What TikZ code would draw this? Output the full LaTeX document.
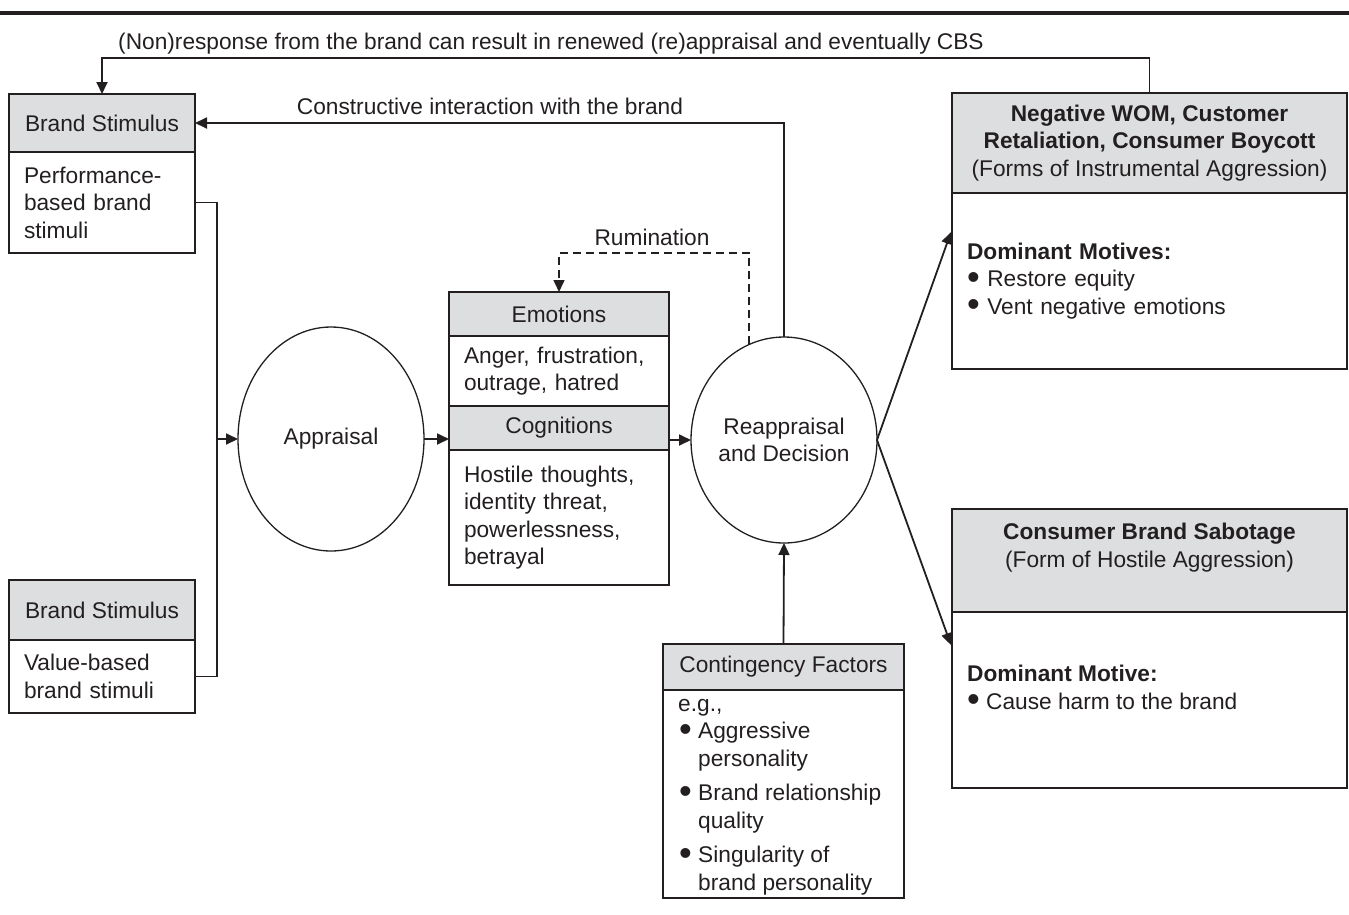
\documentclass[tikz,border=0pt]{standalone}
\usepackage{fontspec}
\usepackage{graphicx}
\setmainfont{Liberation Sans}
\usetikzlibrary{arrows.meta,shapes.geometric,calc}
\definecolor{hdrgray}{RGB}{221,222,224}
\definecolor{ink}{RGB}{35,31,32}
\newcommand\bul{\raisebox{-2.5pt}[0pt][0pt]{\scalebox{1.6}{\textbullet}}}
\begin{document}
\begin{tikzpicture}[x=1pt,y=-1pt,
  font=\fontsize{22.7}{27.5}\selectfont, text=ink,
  box/.style={draw=ink, line width=1.5pt, rectangle, inner sep=0pt, outer sep=0pt},
  hbox/.style={box, fill=hdrgray},
  tbox/.style={box, inner xsep=15pt, align=left},
  circ/.style={draw=ink, line width=1.3pt, ellipse, inner sep=0pt, outer sep=0pt, align=center},
  conn/.style={draw=ink, line width=1.8pt},
  arr/.style={conn, -{Triangle[length=12pt,width=11pt]}},
  dasharr/.style={draw=ink, line width=1.5pt, -{Triangle[length=12pt,width=11pt]}, dash pattern=on 8pt off 5pt},
  lbl/.style={inner sep=0pt}]
\useasboundingbox (0,0) rectangle (1349,914);
\draw[line width=4pt, ink] (0,13) -- (1349,13);

% left boxes
\node[hbox, minimum width=186pt, minimum height=58pt] (bs1h) at (102,123) {Brand Stimulus};
\node[tbox, text width=156pt, minimum height=101pt] (bs1b) at (102,202.5) {Performance-\\based brand\\stimuli};
\node[hbox, minimum width=186pt, minimum height=60pt] (bs2h) at (102,610) {Brand Stimulus};
\node[tbox, text width=156pt, minimum height=73pt] (bs2b) at (102,676.5) {Value-based\\brand stimuli};

% appraisal
\node[circ, minimum width=186pt, minimum height=224pt] (appr) at (331,439) {Appraisal};

% emotions / cognitions
\node[hbox, minimum width=220pt, minimum height=44pt] (emoh) at (559,314) {Emotions};
\node[tbox, text width=190pt, minimum height=70pt] (emob) at (559,371) {Anger, frustration,\\outrage, hatred};
\node[hbox, minimum width=220pt, minimum height=44pt] (cogh) at (559,428) {Cognitions};
\node[tbox, text width=190pt, minimum height=135pt] (cogb) at (559,517.5) {Hostile thoughts,\\identity threat,\\powerlessness,\\betrayal};

% reappraisal
\node[circ, minimum width=186pt, minimum height=206pt] (reapp) at (784,440) {Reappraisal\\and Decision};

% contingency
\node[hbox, minimum width=241pt, minimum height=46pt] (conh) at (783.5,667) {Contingency Factors};
\node[box, minimum width=241pt, minimum height=208pt] (conb) at (783.5,794) {};
\node[lbl, anchor=north west, align=left] (cont) at (678,699) {e.g.,\\
\hspace*{1pt}\bul\ Aggressive\\
\hspace*{1pt}\hphantom{\bul\ }personality\\[7pt]
\hspace*{1pt}\bul\ Brand relationship\\
\hspace*{1pt}\hphantom{\bul\ }quality\\[7pt]
\hspace*{1pt}\bul\ Singularity of\\
\hspace*{1pt}\hphantom{\bul\ }brand personality};

% WOM box
\node[hbox, minimum width=395pt, minimum height=100pt, align=center] (womh) at (1149.5,143) {\textbf{Negative WOM, Customer}\\\textbf{Retaliation, Consumer Boycott}\\(Forms of Instrumental Aggression)};
\node[tbox, text width=365pt, minimum height=176pt] (womb) at (1149.5,281) {\textbf{Dominant Motives:}\\\bul\ Restore equity\\\bul\ Vent negative emotions};

% CBS box
\node[hbox, minimum width=395pt, minimum height=103pt] (cbsh) at (1149.5,560.5) {};
\node[lbl, align=center] (cbst) at (1149.5,547.5) {\textbf{Consumer Brand Sabotage}\\(Form of Hostile Aggression)};
\node[box, minimum width=395pt, minimum height=176pt] (cbsb) at (1149.5,700) {};
\node[lbl, anchor=west, align=left] (cbsm) at (967,687.5) {\textbf{Dominant Motive:}\\\bul\ Cause harm to the brand};

% labels
\node[lbl] (fbt) at (551,44) {(Non)response from the brand can result in renewed (re)appraisal and eventually CBS};
\node[lbl] (cit) at (490,106) {Constructive interaction with the brand};
\node[lbl] (rum) at (652,237) {Rumination};

% connectors
\draw[arr] (womh.north) -- ++(0,-35) -| (bs1h.north);
\draw[arr] (reapp.north) |- (bs1h.east);
\draw[dasharr] (reapp.110) |- ($(emoh.north)+(0,-39)$) -- (emoh.north);
\draw[conn] (bs1b.east) -- ++(22,0) |- (bs2b.east);
\coordinate (join) at (217,439);
\draw[arr] (join) -- (appr.west);
\draw[arr] (appr.east) -- (appr.east -| cogh.west);
\draw[arr] (cogh.east |- reapp.west) -- (reapp.west);
\draw[arr] (conh.north) -- (reapp.south);
\coordinate (womin) at ($(womb.west)+(-1,-49)$);
\coordinate (cbsin) at ($(cbsb.west)+(-1,-55)$);
\draw[arr] (reapp.east) -- (womin);
\draw[arr] (reapp.east) -- (cbsin);
\end{tikzpicture}
\end{document}
